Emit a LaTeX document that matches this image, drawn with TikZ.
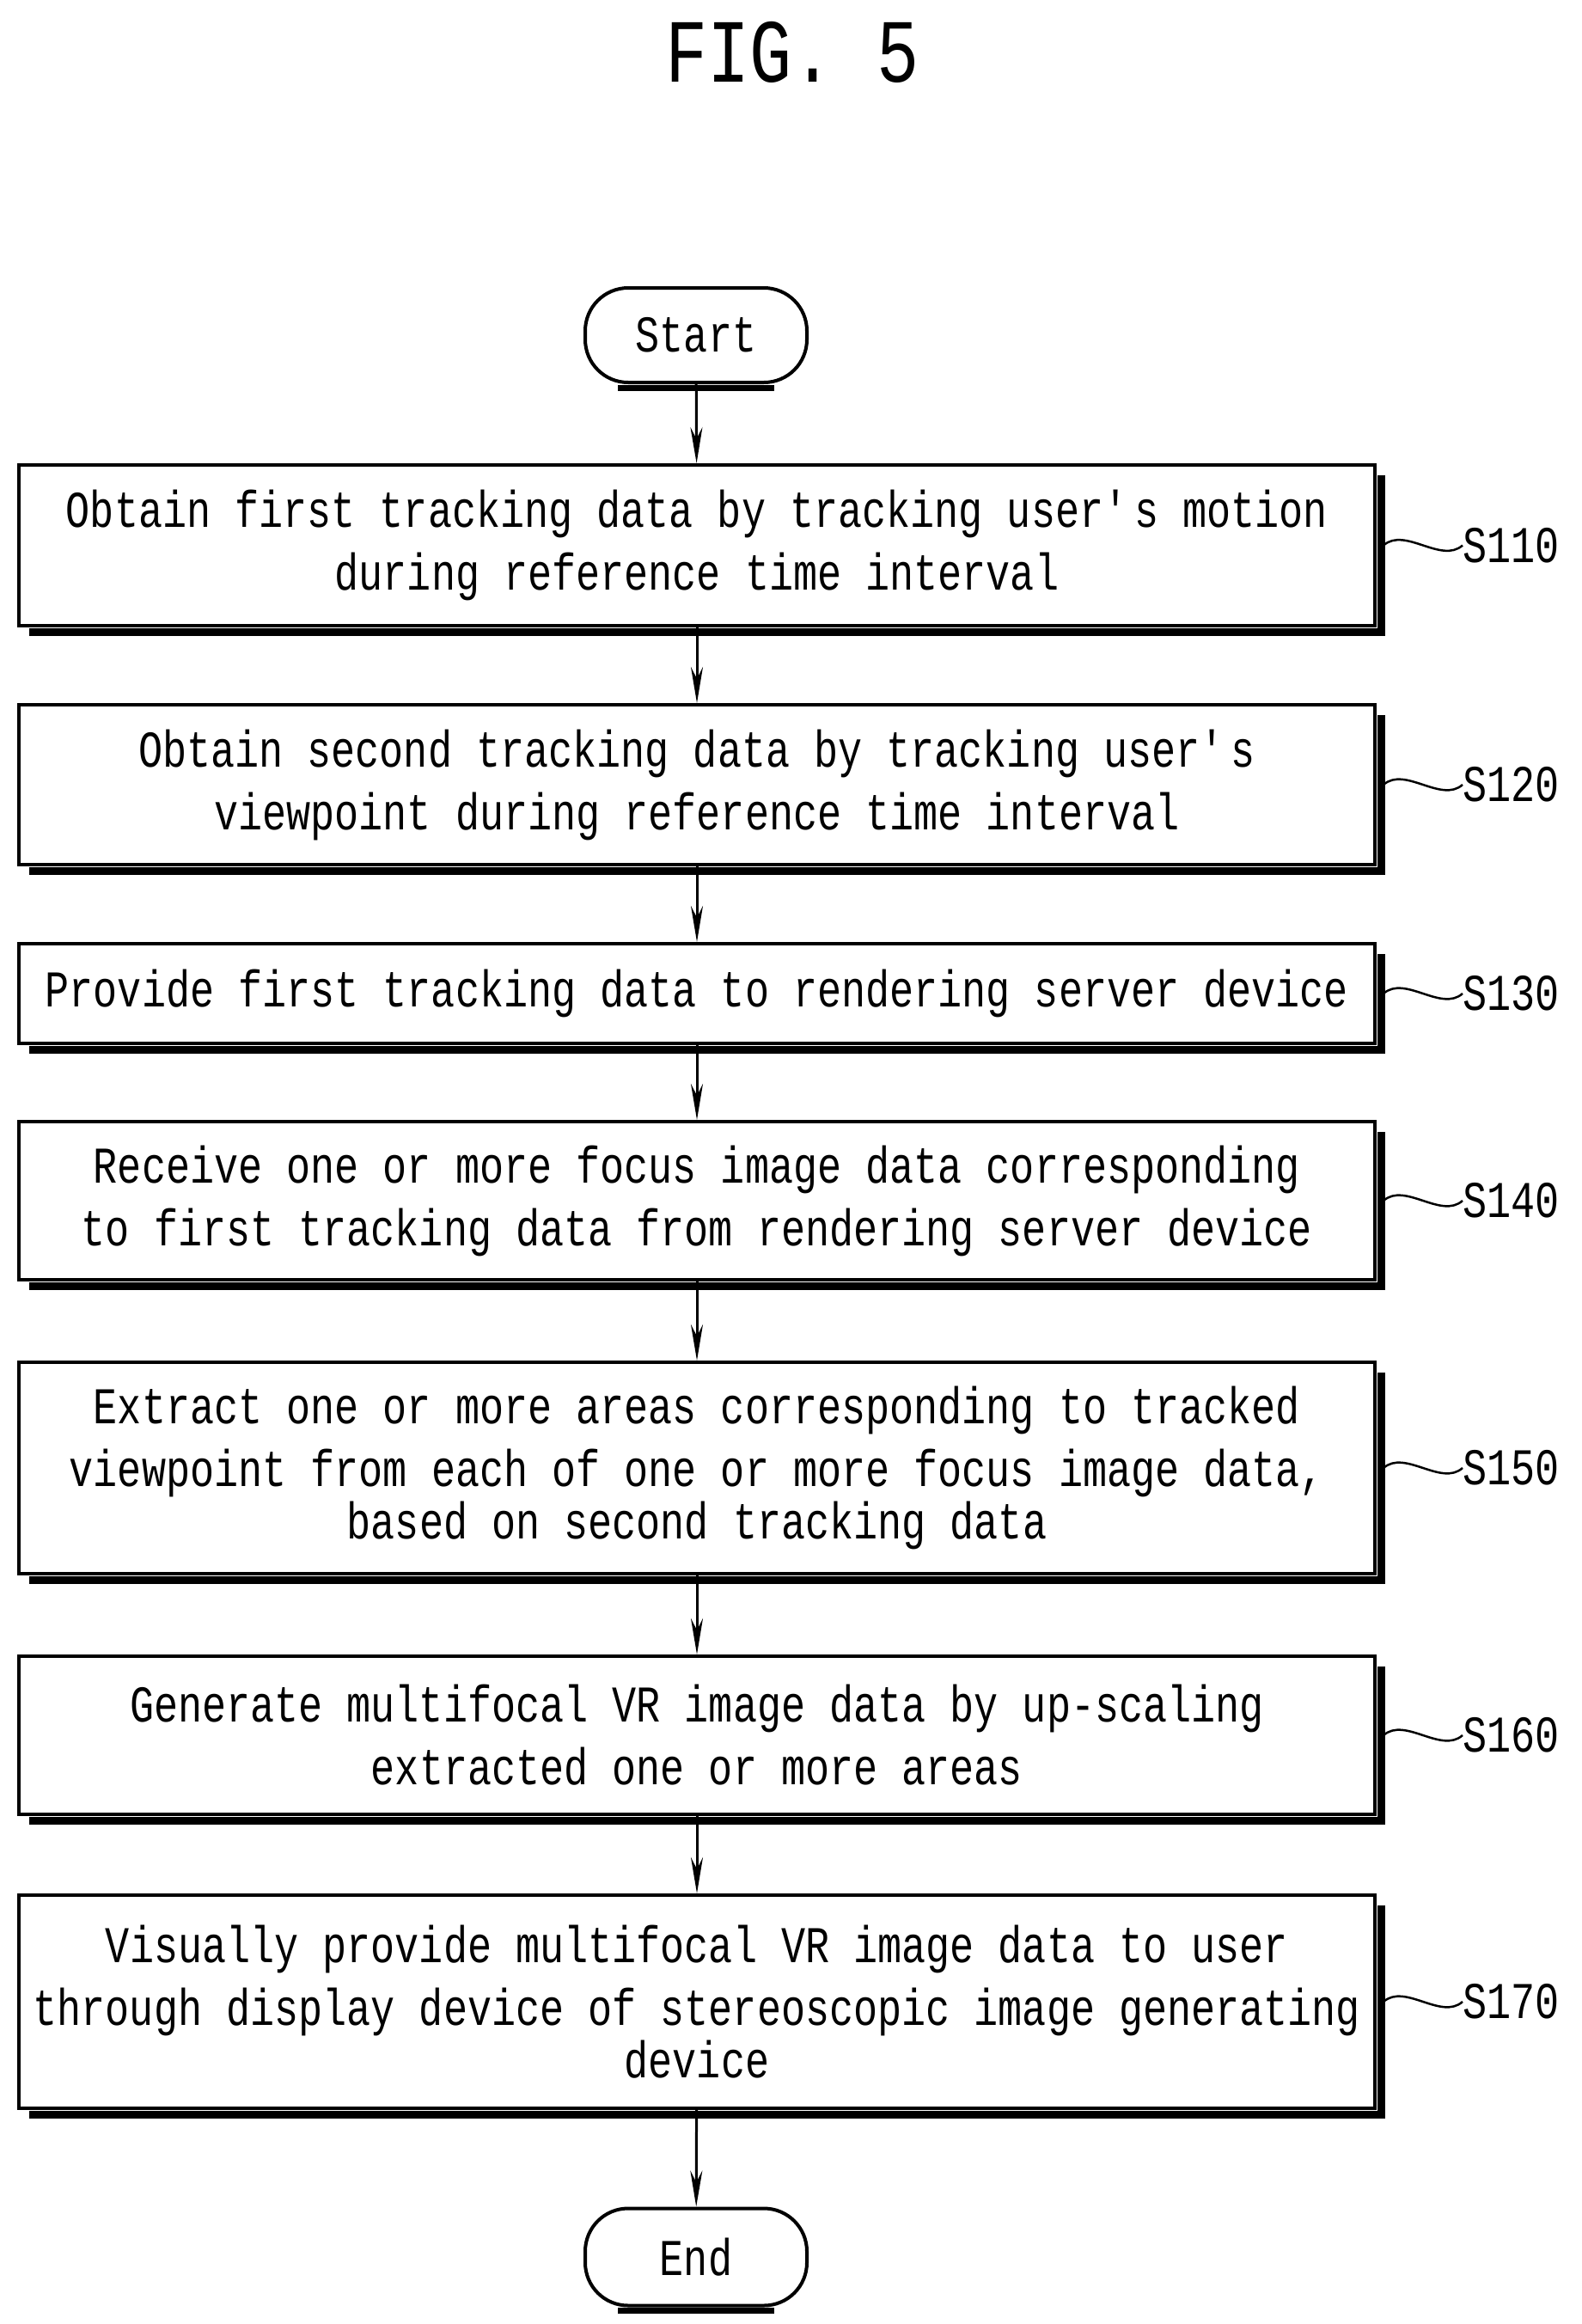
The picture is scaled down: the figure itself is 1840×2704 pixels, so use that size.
\documentclass[tikz,border=0pt]{standalone}
\usepackage{fontspec}
\setmainfont{Liberation Mono}[FakeStretch=0.78]
\usetikzlibrary{arrows.meta}
\begin{document}
\begin{tikzpicture}[x=1pt,y=-1pt,
  txt/.style={font=\fontsize{60}{73}\selectfont, align=center, inner sep=0pt},
  box/.style={txt, draw, line width=4pt, minimum width=1578pt},
  term/.style={txt, draw, line width=4pt, rounded corners=50pt, minimum width=258pt},
  shad/.style={line width=9pt},
  arr/.style={line width=3pt, -{Stealth[length=42pt,width=14pt]}},
  lbl/.style={txt, anchor=west},
  tl/.style={line width=2.5pt}]
\useasboundingbox (0,0) rectangle (1840,2704);
\node[txt, font=\fontsize{105}{110}\selectfont] (title) at (922,61) {FIG. 5};
\node[term, minimum height=110pt] (st) at (810,390) {Start};
\node[box, minimum height=187pt] (b1) at (811,634.5) {Obtain first tracking data by tracking user\textquotesingle s motion\\during reference time interval};
\node[box, minimum height=186pt] (b2) at (811,913) {Obtain second tracking data by tracking user\textquotesingle s\\viewpoint during reference time interval};
\node[box, minimum height=116pt] (b3) at (811,1156) {Provide first tracking data to rendering server device};
\node[box, minimum height=184pt] (b4) at (811,1397) {Receive one or more focus image data corresponding\\to first tracking data from rendering server device};
\node[box, minimum height=246pt] (b5) at (811,1708) {Extract one or more areas corresponding to tracked\\viewpoint from each of one or more focus image data,\\[-12pt]based on second tracking data};
\node[box, minimum height=184pt] (b6) at (811,2019) {Generate multifocal VR image data by up-scaling\\extracted one or more areas};
\node[box, minimum height=248pt] (b7) at (811,2329) {Visually provide multifocal VR image data to user\\through display device of stereoscopic image generating\\[-12pt]device};
\node[term, minimum height=113pt] (en) at (810,2626) {End};
\foreach \n in {b1,b2,b3,b4,b5,b6,b7}{
  \draw[shad] ([xshift=14pt,yshift=-5pt]\n.south west) -- ([xshift=5pt,yshift=-5pt]\n.south east) -- ([xshift=5pt,yshift=-14pt]\n.north east);
}
\foreach \n in {st,en}{
  \draw[shad, line width=7pt] ([xshift=40pt,yshift=-4pt]\n.south west) -- ([xshift=-40pt,yshift=-4pt]\n.south east);
}
\draw[arr] (st) -- (b1);
\draw[arr] (b1) -- (b2);
\draw[arr] (b2) -- (b3);
\draw[arr] (b3) -- (b4);
\draw[arr] (b4) -- (b5);
\draw[arr] (b5) -- (b6);
\draw[arr] (b6) -- (b7);
\draw[arr] (b7) -- (en);
\foreach \n/\s in {b1/S110,b2/S120,b3/S130,b4/S140,b5/S150,b6/S160,b7/S170}{
  \coordinate (t\n) at ([xshift=8pt]\n.east);
  \node[lbl] (l\n) at ([xshift=100pt]\n.east) {\s};
  \draw[tl] (t\n) .. controls +(25,-22) and +(-25,22) .. (l\n.west);
}
\end{tikzpicture}
\end{document}
